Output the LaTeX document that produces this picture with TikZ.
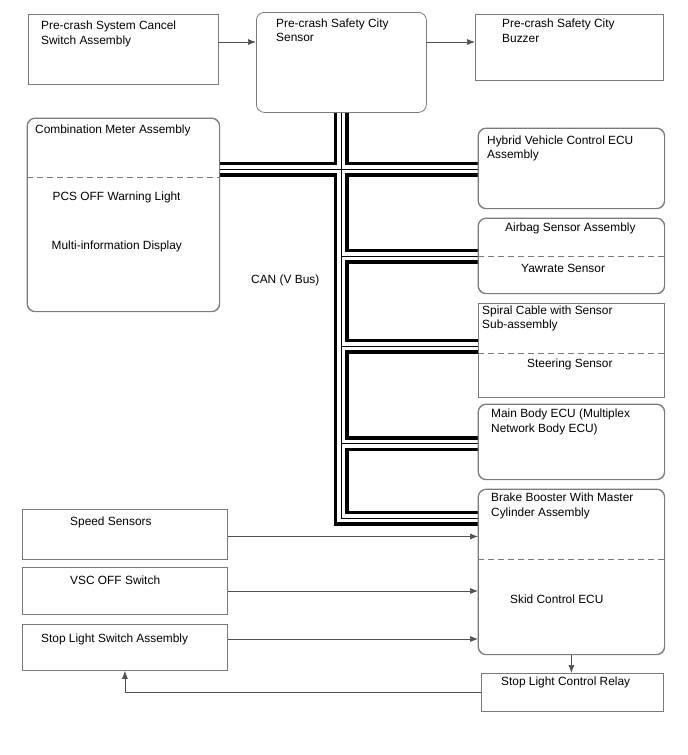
\documentclass[tikz,border=0pt]{standalone}
\usepackage{fontspec}
\setmainfont{Liberation Sans}
\usetikzlibrary{arrows.meta}
\definecolor{boxgray}{HTML}{7A7A7A}
\definecolor{arrgray}{HTML}{505050}
\begin{document}
\begin{tikzpicture}[x=1pt,y=-1pt,
  box/.style={draw=boxgray, line width=0.8pt, inner sep=0pt, anchor=north west},
  rbox/.style={box, rounded corners=8pt},
  lbl/.style={anchor=base west, inner sep=0pt, font=\fontsize{11.9}{14}\selectfont},
  arr/.style={draw=arrgray, line width=0.7pt, -{Latex[length=8pt,width=6pt]}},
  dashln/.style={draw=boxgray, line width=0.8pt, dash pattern=on 6pt off 4pt},
  busA/.style={draw=black, line width=15pt, line join=miter},
  busB/.style={draw=white, line width=8pt, line join=miter},
  busC/.style={draw=black, line width=0.8pt, line join=miter}]
\useasboundingbox (0,0) rectangle (688,755);
\fill[white] (0,0) rectangle (688,755);

% boxes
\node[box,  minimum width=190pt, minimum height=70pt]  (cancel) at (28,14) {};
\node[rbox, minimum width=170pt, minimum height=100pt] (sensor) at (256,12) {};
\node[box,  minimum width=188pt, minimum height=66pt]  (buzzer) at (475,14) {};
\node[rbox, minimum width=192pt, minimum height=193pt] (comb)   at (27,118) {};
\node[rbox, minimum width=186pt, minimum height=80pt]  (hybrid) at (478,128) {};
\node[rbox, minimum width=186pt, minimum height=75pt]  (airbag) at (478,218) {};
\node[box,  minimum width=186pt, minimum height=94pt]  (spiral) at (478,303) {};
\node[rbox, minimum width=186pt, minimum height=75pt]  (mainb)  at (478,404) {};
\node[rbox, minimum width=186pt, minimum height=165pt] (brake)  at (478,489) {};
\node[box,  minimum width=182pt, minimum height=38pt]  (relay)  at (481,673) {};
\node[box,  minimum width=205pt, minimum height=50pt]  (speed)  at (22,509) {};
\node[box,  minimum width=205pt, minimum height=47pt]  (vsc)    at (22,567) {};
\node[box,  minimum width=205pt, minimum height=46pt]  (stopsw) at (22,624) {};

% helper coordinates
\coordinate (yTop) at (0,42);
\coordinate (yComb) at (0,169);
\coordinate (yAir) at (0,256);
\coordinate (ySpi) at (0,346);
\coordinate (yMain) at (0,443.5);
\coordinate (yBrk) at (0,518);
\coordinate (ySpd) at (0,536.5);
\coordinate (yVsc) at (0,591);
\coordinate (yStop) at (0,639);

% CAN bus
\foreach \s in {busA,busB,busC}{
  \draw[\s] (sensor.south) -- (sensor.south |- yBrk) -- (brake.west |- yBrk);
  \draw[\s] (comb.east |- yComb) -- (hybrid.west |- yComb);
  \draw[\s] (sensor.south |- yAir) -- (airbag.west |- yAir);
  \draw[\s] (sensor.south |- ySpi) -- (spiral.west |- ySpi);
  \draw[\s] (sensor.south |- yMain) -- (mainb.west |- yMain);
}
% redraw box borders on top
\foreach \n in {comb,hybrid,airbag,mainb,brake}{\draw[draw=boxgray, line width=0.8pt, rounded corners=8pt] (\n.north west) rectangle (\n.south east);}
\draw[draw=boxgray, line width=0.8pt] (spiral.north west) rectangle (spiral.south east);

% dashed dividers
\draw[dashln] (comb.west |- 0,177.5) -- (comb.east |- 0,177.5);
\draw[dashln] (airbag.west |- 0,256) -- (airbag.east |- 0,256);
\draw[dashln] (spiral.west |- 0,353.5) -- (spiral.east |- 0,353.5);
\draw[dashln] (brake.west |- 0,559) -- (brake.east |- 0,559);

% labels
\node[lbl] (t1a) at (41,29) {Pre-crash System Cancel};
\node[lbl] (t1b) at (41,44) {Switch Assembly};
\node[lbl] (t2a) at (276,27) {Pre-crash Safety City};
\node[lbl] (t2b) at (276,41) {Sensor};
\node[lbl] (t3a) at (502,27) {Pre-crash Safety City};
\node[lbl] (t3b) at (502,42) {Buzzer};
\node[lbl] (t4a) at (35,133) {Combination Meter Assembly};
\node[lbl] (t4b) at (52.5,200) {PCS OFF Warning Light};
\node[lbl] (t4c) at (51.5,249.5) {Multi-information Display};
\node[lbl] (can) at (251,283) {CAN (V Bus)};
\node[lbl] (t5a) at (487,144) {Hybrid Vehicle Control ECU};
\node[lbl] (t5b) at (487,158.5) {Assembly};
\node[lbl] (t6a) at (505,231.5) {Airbag Sensor Assembly};
\node[lbl] (t6b) at (521,272.5) {Yawrate Sensor};
\node[lbl] (t7a) at (482,314) {Spiral Cable with Sensor};
\node[lbl] (t7b) at (482,328.5) {Sub-assembly};
\node[lbl] (t7c) at (527,367.5) {Steering Sensor};
\node[lbl] (t8a) at (491,417.5) {Main Body ECU (Multiplex};
\node[lbl] (t8b) at (491,432) {Network Body ECU)};
\node[lbl] (t9a) at (491,501.5) {Brake Booster With Master};
\node[lbl] (t9b) at (491,516) {Cylinder Assembly};
\node[lbl] (t9c) at (510,603.5) {Skid Control ECU};
\node[lbl] (t10) at (70,525.5) {Speed Sensors};
\node[lbl] (t11) at (70,584.5) {VSC OFF Switch};
\node[lbl] (t12) at (41,642) {Stop Light Switch Assembly};
\node[lbl] (t13) at (501,685) {Stop Light Control Relay};

% arrows
\draw[arr] (cancel.east |- yTop) -- (sensor.west |- yTop);
\draw[arr] (sensor.east |- yTop) -- (buzzer.west |- yTop);
\draw[arr] (speed.east |- ySpd) -- (brake.west |- ySpd);
\draw[arr] (vsc.east |- yVsc) -- (brake.west |- yVsc);
\draw[arr] (stopsw.east |- yStop) -- (brake.west |- yStop);
\draw[arr] (brake.south) -- (brake.south |- relay.north);
\draw[arr] (relay.west) -| (stopsw.south);
\end{tikzpicture}
\end{document}
